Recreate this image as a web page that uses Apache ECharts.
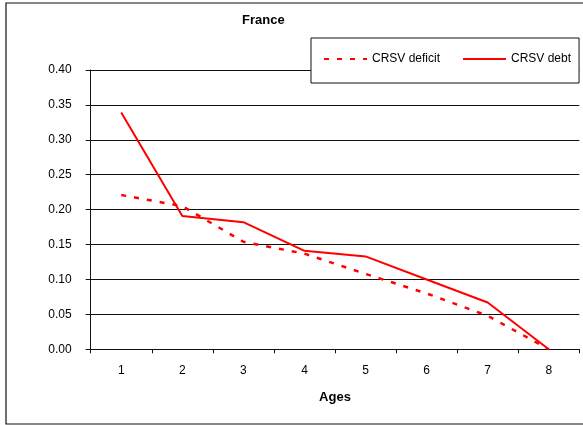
<!DOCTYPE html>
<html>
<head>
<meta charset="utf-8">
<script src="https://cdn.jsdelivr.net/npm/echarts@6/dist/echarts.min.js"></script>
<style>html,body{margin:0;padding:0;background:#fff;}#c{width:583px;height:425px;}</style>
</head>
<body>
<div id="c"></div>
<script>
const ages = ['1','2','3','4','5','6','7','8'];
const crsvDeficit = [0.221, 0.205, 0.154, 0.137, 0.108, 0.080, 0.048, 0.000];
const crsvDebt = [0.339, 0.191, 0.182, 0.141, 0.133, 0.100, 0.067, 0.000];
const chartTitle = 'France';
const xName = 'Ages';

const chart = echarts.init(document.getElementById('c'), null, {renderer: 'canvas'});
chart.setOption({
  backgroundColor: '#fff',
  animation: false,
  title: {
    text: chartTitle, left: 237, top: 9,
    textStyle: {fontFamily: 'Liberation Sans, Arial', fontSize: 13, fontWeight: 'bold', color: '#000'}
  },
  graphic: [{
    type: 'rect', shape: {x: 6, y: 3, width: 620, height: 421},
    style: {fill: 'none', stroke: '#111', lineWidth: 1.2}, z: -1
  }],
  legend: {
    left: 311, top: 38, width: 300, orient: 'horizontal',
    padding: [15, 8, 18, 12],
    backgroundColor: '#fff', borderColor: '#111', borderWidth: 1,
    itemWidth: 43, itemHeight: 10, itemGap: 22,
    itemStyle: {opacity: 0},
    textStyle: {fontFamily: 'Liberation Sans, Arial', fontSize: 12, color: '#000'},
    data: ['CRSV deficit', 'CRSV debt'],
    z: 10
  },
  grid: {left: 90.7, right: 3.7, top: 70, bottom: 75.7},
  xAxis: {
    type: 'category', data: ages, boundaryGap: true,
    name: xName, nameLocation: 'middle', nameGap: 42,
    nameTextStyle: {fontFamily: 'Liberation Sans, Arial', fontSize: 13, fontWeight: 'bold', color: '#000'},
    axisLine: {lineStyle: {color: '#111', width: 1}},
    axisTick: {show: true, length: 4, alignWithLabel: false, lineStyle: {color: '#111'}},
    axisLabel: {fontFamily: 'Liberation Sans, Arial', fontSize: 12, color: '#000', margin: 15},
    splitLine: {show: false}
  },
  yAxis: {
    type: 'value', min: 0, max: 0.4, interval: 0.05,
    axisLine: {show: true, lineStyle: {color: '#111', width: 1}},
    axisTick: {show: true, length: 5, lineStyle: {color: '#111'}},
    axisLabel: {fontFamily: 'Liberation Sans, Arial', fontSize: 12, color: '#000', margin: 19,
      formatter: v => v.toFixed(2)},
    splitLine: {show: true, lineStyle: {color: '#111', width: 1}}
  },
  series: [
    {
      name: 'CRSV deficit', type: 'line', data: crsvDeficit,
      symbol: 'none', color: '#ff0000',
      lineStyle: {color: '#ff0000', width: 2.5, type: [5, 8]}
    },
    {
      name: 'CRSV debt', type: 'line', data: crsvDebt,
      symbol: 'none', color: '#ff0000',
      lineStyle: {color: '#ff0000', width: 2, type: 'solid'}
    }
  ]
});
</script>
</body>
</html>
